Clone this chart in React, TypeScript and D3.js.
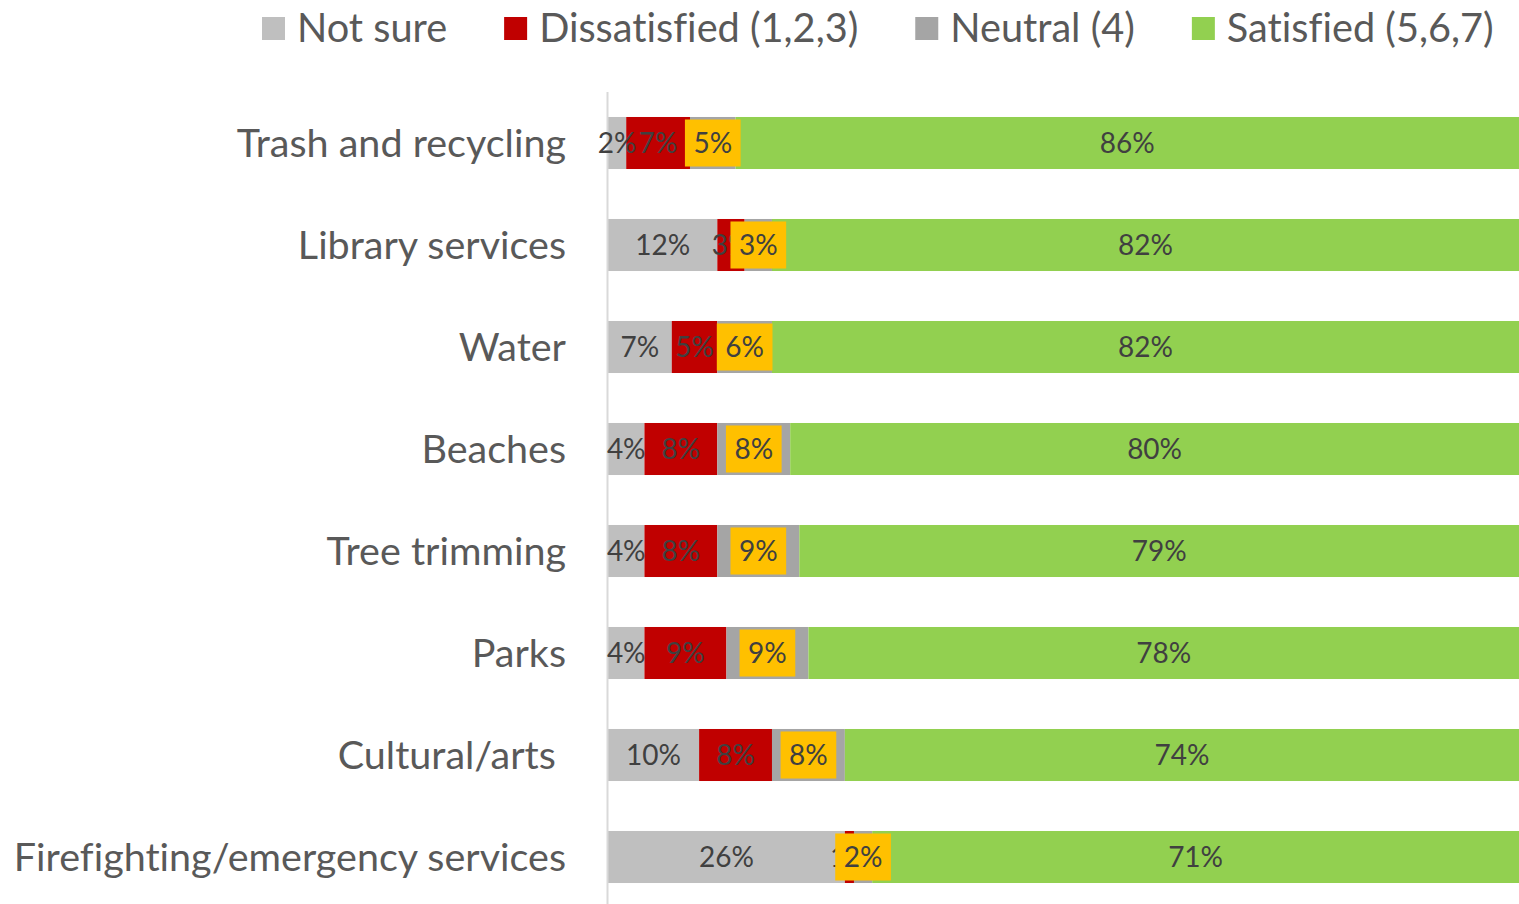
import React, { useEffect, useRef } from "react";
import * as d3 from "d3";

const categories = [
  "Trash and recycling",
  "Library services",
  "Water",
  "Beaches",
  "Tree trimming",
  "Parks",
  "Cultural/arts ",
  "Firefighting/emergency services",
];
const seriesNames = ["Not sure", "Dissatisfied (1,2,3)", "Neutral (4)", "Satisfied (5,6,7)"];
const notSure = [2, 12, 7, 4, 4, 4, 10, 26];
const dissatisfied = [7, 3, 5, 8, 8, 9, 8, 1];
const neutral = [5, 3, 6, 8, 9, 9, 8, 2];
const satisfied = [86, 82, 82, 80, 79, 78, 74, 71];
const colors = ["#BFBFBF", "#C00000", "#A5A5A5", "#92D050"];

const W = 1519;
const H = 904;
const FONT = "Lato, 'Open Sans', sans-serif";

export default function App() {
  const ref = useRef<SVGSVGElement>(null);

  useEffect(() => {
    document.body.style.margin = "0";
    const svg = d3.select(ref.current);
    svg.selectAll("*").remove();
    svg.style("font-variant-ligatures", "none");

    const keys = ["ns", "dis", "neu", "sat"];
    const rows = categories.map((c, i) => ({
      cat: c,
      ns: notSure[i],
      dis: dissatisfied[i],
      neu: neutral[i],
      sat: satisfied[i],
    }));
    const stacked = d3.stack<any>().keys(keys)(rows);

    const x = d3.scaleLinear().domain([0, 100]).range([608, 1519]);
    const y = d3
      .scaleBand<string>()
      .domain(categories)
      .range([92, 908])
      .paddingInner(0.49)
      .paddingOuter(0.245);

    // bars
    stacked.forEach((s, si) => {
      svg
        .append("g")
        .selectAll("rect")
        .data(s)
        .join("rect")
        .attr("x", (d) => x(d[0]))
        .attr("y", (d: any) => y(d.data.cat)!)
        .attr("width", (d) => x(d[1]) - x(d[0]))
        .attr("height", y.bandwidth())
        .attr("fill", colors[si]);
    });

    // axis line
    svg
      .append("line")
      .attr("x1", 607.5)
      .attr("x2", 607.5)
      .attr("y1", 92)
      .attr("y2", 908)
      .attr("stroke", "#D9D9D9")
      .attr("stroke-width", 2);

    // category labels
    svg
      .append("g")
      .selectAll("text")
      .data(categories)
      .join("text")
      .attr("x", 566)
      .attr("y", (d) => y(d)! + y.bandwidth() / 2)
      .attr("dy", "0.35em")
      .attr("text-anchor", "end")
      .style("white-space", "pre")
      .attr("font-family", FONT)
      .attr("font-size", 39.5)
      .attr("fill", "#595959")
      .text((d) => d);

    const labelG = svg.append("g");
    const addLabels = (si: number) => {
      labelG
        .append("g")
        .selectAll("text")
        .data(stacked[si])
        .join("text")
        .attr("x", (d) => (x(d[0]) + x(d[1])) / 2)
        .attr("y", (d: any) => y(d.data.cat)! + y.bandwidth() / 2)
        .attr("dy", "0.35em")
        .attr("text-anchor", "middle")
        .attr("font-family", FONT)
        .attr("font-size", 28)
        .attr("fill", "#404040")
        .text((d) => `${d[1] - d[0]}%`);
    };
    addLabels(0);
    addLabels(1);

    // neutral labels with boxes
    const neuG = labelG.append("g");
    stacked[2].forEach((d: any) => {
      const cx = (x(d[0]) + x(d[1])) / 2;
      const cy = y(d.data.cat)! + y.bandwidth() / 2;
      const g = neuG.append("g");
      const r = g.append("rect");
      const t = g
        .append("text")
        .attr("x", cx)
        .attr("y", cy)
        .attr("dy", "0.35em")
        .attr("text-anchor", "middle")
        .attr("font-family", FONT)
        .attr("font-size", 28)
        .attr("fill", "#404040")
        .text(`${d[1] - d[0]}%`);
      const tw = (t.node() as SVGTextElement).getComputedTextLength();
      const bw = tw + 17;
      const bh = y.bandwidth() - 5;
      r.attr("x", cx - bw / 2)
        .attr("y", cy - bh / 2)
        .attr("width", bw)
        .attr("height", bh)
        .attr("fill", "#FFC000");
    });

    addLabels(3);

    // legend
    const leg = svg.append("g");
    let lx = 262;
    seriesNames.forEach((n, i) => {
      leg
        .append("rect")
        .attr("x", lx)
        .attr("y", 17)
        .attr("width", 23)
        .attr("height", 23)
        .attr("fill", colors[i]);
      const t = leg
        .append("text")
        .attr("x", lx + 35)
        .attr("y", 28)
        .attr("dy", "0.35em")
        .attr("font-family", FONT)
        .attr("font-size", 39.7)
        .attr("fill", "#595959")
        .text(n);
      const tw = (t.node() as SVGTextElement).getComputedTextLength();
      lx = lx + 35 + tw + 57;
    });
  }, []);

  return (
    <svg
      ref={ref}
      width={W}
      height={H}
      style={{ position: "absolute", left: 0, top: 0, background: "#fff" }}
    />
  );
}
